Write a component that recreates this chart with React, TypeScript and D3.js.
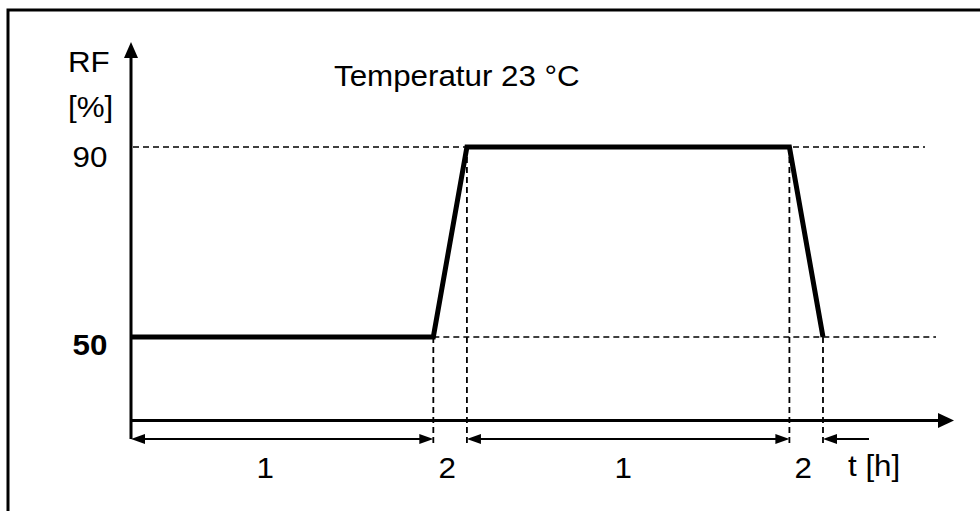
import React from "react";
import * as d3 from "d3";

// Schematic time phases (relative widths on the drawing) and their labels
const phaseLabels = ["1", "2", "1", "2"];
const phaseSpans = [9, 1, 9.6, 1];
// Relative humidity profile at each phase boundary
const rfValues = [50, 50, 90, 90, 50];
const yTickLabels = ["90", "50"];
const yTickValues = [90, 50];
const title = "Temperatur 23 °C";
const yLabel1 = "RF";
const yLabel2 = "[%]";
const xLabel = "t [h]";

const W = 980;
const H = 511;
const SX = 1.08;
const FS = 29;
const FONT = "Arial, 'Liberation Sans', Helvetica, sans-serif";

export default function App() {
  const x = d3.scaleLinear().domain([0, 24.5]).range([131, 954]);
  const y = d3.scaleLinear().domain([50, 90]).range([337, 147]);

  const bounds = [0];
  phaseSpans.forEach((s) => bounds.push(bounds[bounds.length - 1] + s));

  const axisY = 420.5;
  const dimY = 439;
  const axisTop = 42;

  const line = d3
    .line<number>()
    .x((_, i) => x(bounds[i]))
    .y((d) => y(d));

  const T = (props: {
    x: number;
    y: number;
    anchor?: string;
    size?: number;
    bold?: boolean;
    children: React.ReactNode;
  }) => (
    <g transform={`translate(${props.x},${props.y}) scale(${SX},1)`}>
      <text
        x={0}
        y={0}
        textAnchor={props.anchor || "start"}
        fontSize={props.size || FS}
        fontWeight={props.bold ? "bold" : "normal"}
        fontFamily={FONT}
        fill="#000"
      >
        {props.children}
      </text>
    </g>
  );

  const arrowHead = (tx: number, ty: number, dir: "left" | "right" | "up", len: number, half: number, key: string) => {
    let pts: [number, number][];
    if (dir === "left") pts = [[tx, ty], [tx + len, ty - half], [tx + len, ty + half]];
    else if (dir === "right") pts = [[tx, ty], [tx - len, ty - half], [tx - len, ty + half]];
    else pts = [[tx, ty], [tx - half, ty + len], [tx + half, ty + len]];
    return <polygon key={key} points={pts.map((p) => p.join(",")).join(" ")} fill="#000" />;
  };

  // vertical dashed guide lines at phase boundaries (from the profile to below the dimension line)
  const guides = [1, 2, 3, 4].map((i) => ({ xv: bounds[i], yv: rfValues[i] }));
  const labelShift = [-17, -3, -5, -3];

  return (
    <svg
      width={W}
      height={H}
      style={{ position: "absolute", left: 0, top: 0, background: "#fff" }}
    >
      <rect x={0} y={0} width={W} height={H} fill="#fff" />
      {/* frame */}
      <rect x={8} y={10} width={W + 20} height={H + 20} fill="none" stroke="#000" strokeWidth={3} />

      {/* horizontal dashed reference lines */}
      <line x1={x(0) + 2} x2={925} y1={y(90)} y2={y(90)} stroke="#000" strokeWidth={1.6} strokeDasharray="6,4" />
      <line x1={x(bounds[1])} x2={936} y1={y(50)} y2={y(50)} stroke="#000" strokeWidth={1.6} strokeDasharray="6,4" />

      {/* vertical dashed guides */}
      {guides.map((g, i) => (
        <line
          key={"g" + i}
          x1={x(g.xv)}
          x2={x(g.xv)}
          y1={y(g.yv)}
          y2={446}
          stroke="#000"
          strokeWidth={1.8}
          strokeDasharray="6,4"
        />
      ))}

      {/* axes */}
      <line x1={x(0)} x2={x(0)} y1={axisTop + 12} y2={dimY} stroke="#000" strokeWidth={3} />
      {arrowHead(x(0), axisTop, "up", 16, 7, "ya")}
      <line x1={x(0)} x2={940} y1={axisY} y2={axisY} stroke="#000" strokeWidth={3} />
      {arrowHead(954, axisY, "right", 16, 7.5, "xa")}

      {/* profile */}
      <path d={line(rfValues) || ""} fill="none" stroke="#000" strokeWidth={5} strokeLinejoin="miter" />

      {/* dimension arrows */}
      <line x1={x(bounds[0]) + 4} x2={x(bounds[1]) - 4} y1={dimY} y2={dimY} stroke="#000" strokeWidth={1.8} />
      {arrowHead(x(bounds[0]), dimY, "left", 14, 5, "d1l")}
      {arrowHead(x(bounds[1]), dimY, "right", 14, 5, "d1r")}
      <line x1={x(bounds[2]) + 4} x2={x(bounds[3]) - 4} y1={dimY} y2={dimY} stroke="#000" strokeWidth={1.8} />
      {arrowHead(x(bounds[2]), dimY, "left", 14, 5, "d3l")}
      {arrowHead(x(bounds[3]), dimY, "right", 14, 5, "d3r")}
      <line x1={x(bounds[4]) + 4} x2={x(bounds[4]) + 46} y1={dimY} y2={dimY} stroke="#000" strokeWidth={1.8} />
      {arrowHead(x(bounds[4]), dimY, "left", 14, 5, "d4l")}

      {/* phase labels */}
      {phaseLabels.map((lab, i) => {
        const cx = (x(bounds[i]) + x(bounds[i + 1])) / 2;
        return (
          <T key={"p" + i} x={cx + labelShift[i]} y={478} anchor="middle">
            {lab}
          </T>
        );
      })}
      <T x={848} y={476}>{xLabel}</T>

      {/* y labels */}
      <T x={68} y={72}>{yLabel1}</T>
      <T x={68} y={117}>{yLabel2}</T>
      {yTickValues.map((v, i) => (
        <T key={"yt" + i} x={90} y={y(v) + (v === 90 ? 20 : 18)} anchor="middle" bold={v === 50} size={v === 50 ? 29 : FS}>
          {yTickLabels[i]}
        </T>
      ))}

      <T x={334} y={86}>{title}</T>
    </svg>
  );
}
